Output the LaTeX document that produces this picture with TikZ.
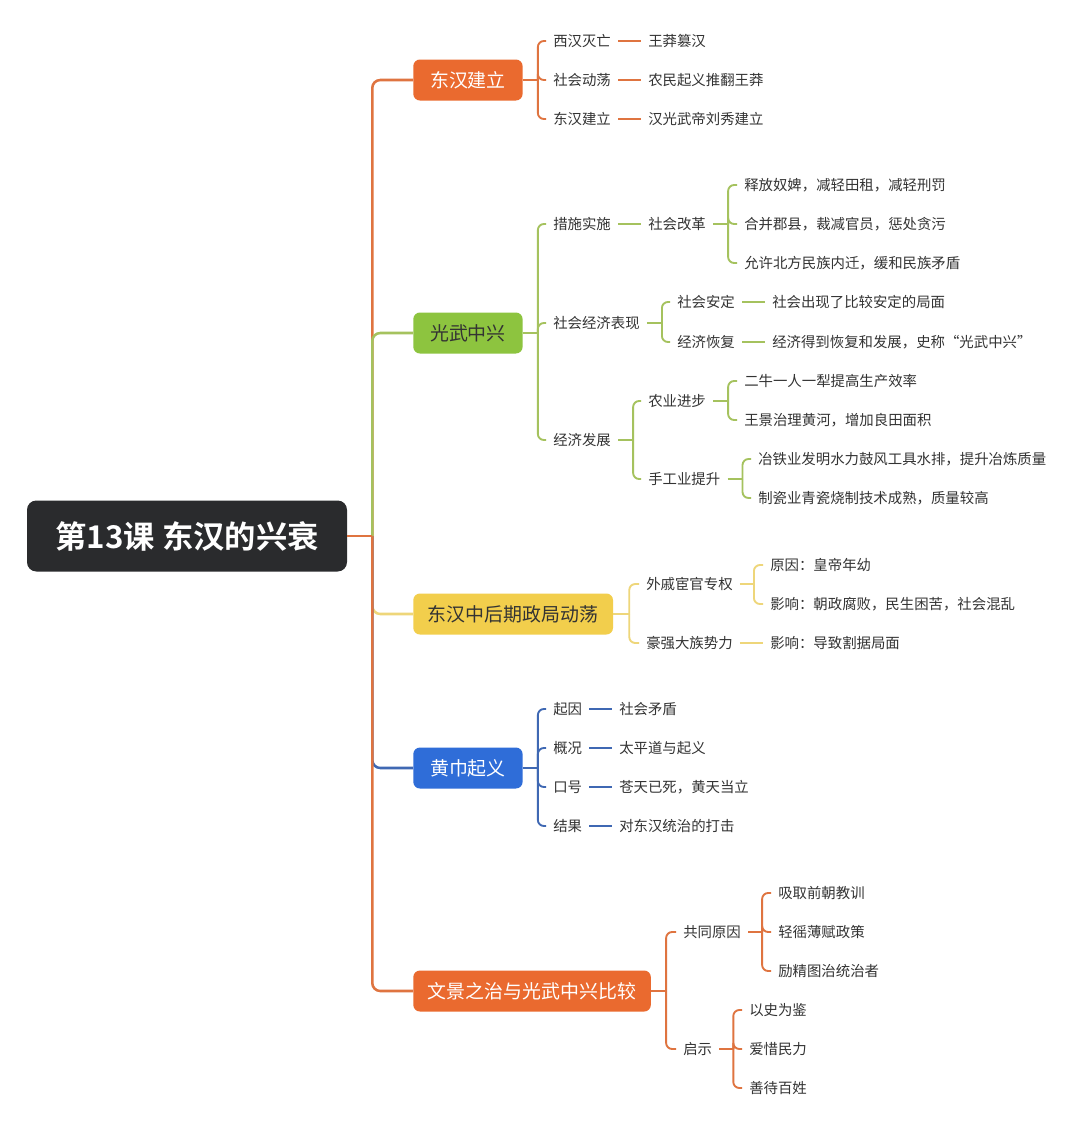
\documentclass[tikz,border=0pt]{standalone}
\usepackage{fontspec}
\setmainfont{Noto Sans CJK SC}[BoldFont={Noto Sans CJK SC Bold}]
\usepackage{xcolor}
\usepackage{tikz}

\definecolor{xorange}{HTML}{EA6A2F}
\definecolor{xorangeln}{HTML}{DF7440}
\definecolor{xgreen}{HTML}{8DC43F}
\definecolor{xgreenln}{HTML}{A5C25E}
\definecolor{xyellow}{HTML}{F2CE4C}
\definecolor{xyellowln}{HTML}{EED67A}
\definecolor{xblue}{HTML}{2F6DD8}
\definecolor{xblueln}{HTML}{3F68B3}
\definecolor{xdark}{HTML}{2A2B2D}
\definecolor{xtext}{HTML}{333333}

\tikzset{
  leaf/.style={anchor=west, inner xsep=5.25pt, inner ysep=2pt, text=xtext,
    font=\fontsize{10.8pt}{13pt}\selectfont},
  topic/.style={anchor=west, rounded corners=5pt, minimum height=30.75pt,
    minimum width=82pt, inner xsep=11pt, font=\fontsize{14.2pt}{16pt}\selectfont},
  rootbox/.style={rounded corners=7pt, fill=xdark, text=white, minimum width=240pt,
    minimum height=53.25pt, font=\fontsize{23.5pt}{26pt}\selectfont\bfseries},
  trunk/.style={line width=1.9pt, rounded corners=6pt},
  sub/.style={line width=1.4pt, rounded corners=4.5pt},
}

\begin{document}
\begin{tikzpicture}[x=0.75pt,y=-0.75pt]
\fill[white] (0,0) rectangle (1080,1132);
\useasboundingbox (0,0) rectangle (1080,1132);

% root
\node[rootbox] (root) at (187,536) {第13课 东汉的兴衰};

% topics
\node[topic, fill=xorange, text=white] (jl) at (413,80) {东汉建立};
\node[topic, fill=xgreen, text=xtext] (zx) at (413,333) {光武中兴};
\node[topic, fill=xyellow, text=xtext] (dd) at (413,614) {东汉中后期政局动荡};
\node[topic, fill=xblue, text=white] (hj) at (413,768) {黄巾起义};
\node[topic, fill=xorange, text=white] (bj) at (413,991) {文景之治与光武中兴比较};

% trunk
\coordinate (tf) at ([xshift=25*0.75pt]root.east);
\draw[trunk, xyellowln] (tf) |- (dd.west);
\draw[trunk, xblueln] (tf) |- (hj.west);
\draw[trunk, xorangeln] (tf) |- (bj.west);
\draw[trunk, xorangeln] (tf) |- (jl.west);
\draw[trunk, xgreenln] (tf) |- (zx.west);
\draw[trunk, xorangeln] (root.east) -- (tf);

% 东汉建立
\node[leaf] (jl1) at (546,41) {西汉灭亡};
\node[leaf] (jl2) at (546,80) {社会动荡};
\node[leaf] (jl3) at (546,119) {东汉建立};
\node[leaf] (jl1a) at (641,41) {王莽篡汉};
\node[leaf] (jl2a) at (641,80) {农民起义推翻王莽};
\node[leaf] (jl3a) at (641,119) {汉光武帝刘秀建立};
\draw[sub, xorangeln] (jl.east) -- ++(15,0) coordinate (jlf);
\foreach \c in {jl1,jl2,jl3} \draw[sub, xorangeln] (jlf) |- (\c.west);
\foreach \c in {jl1,jl2,jl3} \draw[sub, xorangeln] (\c) -- (\c a);

% 光武中兴
\node[leaf] (zx1) at (546,224) {措施实施};
\node[leaf] (zx2) at (546,323) {社会经济表现};
\node[leaf] (zx3) at (546,440) {经济发展};
\node[leaf] (zx1a) at (641,224) {社会改革};
\node[leaf] (zx1a1) at (737,185) {释放奴婢，减轻田租，减轻刑罚};
\node[leaf] (zx1a2) at (737,224) {合并郡县，裁减官员，惩处贪污};
\node[leaf] (zx1a3) at (737,263) {允许北方民族内迁，缓和民族矛盾};
\node[leaf] (zx2a) at (670,302) {社会安定};
\node[leaf] (zx2b) at (670,342) {经济恢复};
\node[leaf] (zx2a1) at (765,302) {社会出现了比较安定的局面};
\node[leaf] (zx2b1) at (765,342) {经济得到恢复和发展，史称“光武中兴”};
\node[leaf] (zx3a) at (641,401) {农业进步};
\node[leaf] (zx3b) at (641,479) {手工业提升};
\node[leaf] (zx3a1) at (737,381) {二牛一人一犁提高生产效率};
\node[leaf] (zx3a2) at (737,420) {王景治理黄河，增加良田面积};
\node[leaf] (zx3b1) at (751,459) {冶铁业发明水力鼓风工具水排，提升冶炼质量};
\node[leaf] (zx3b2) at (751,498) {制瓷业青瓷烧制技术成熟，质量较高};
\draw[sub, xgreenln] (zx.east) -- ++(15,0) coordinate (zxf);
\foreach \c in {zx1,zx2,zx3} \draw[sub, xgreenln] (zxf) |- (\c.west);
\draw[sub, xgreenln] (zx1) -- (zx1a);
\draw[sub, xgreenln] (zx1a.east) -- ++(15,0) coordinate (zx1af);
\foreach \c in {zx1a1,zx1a2,zx1a3} \draw[sub, xgreenln] (zx1af) |- (\c.west);
\draw[sub, xgreenln] (zx2.east) -- ++(15,0) coordinate (zx2f);
\foreach \c in {zx2a,zx2b} \draw[sub, xgreenln] (zx2f) |- (\c.west);
\draw[sub, xgreenln] (zx2a) -- (zx2a1);
\draw[sub, xgreenln] (zx2b) -- (zx2b1);
\draw[sub, xgreenln] (zx3.east) -- ++(15,0) coordinate (zx3f);
\foreach \c in {zx3a,zx3b} \draw[sub, xgreenln] (zx3f) |- (\c.west);
\draw[sub, xgreenln] (zx3a.east) -- ++(15,0) coordinate (zx3af);
\foreach \c in {zx3a1,zx3a2} \draw[sub, xgreenln] (zx3af) |- (\c.west);
\draw[sub, xgreenln] (zx3b.east) -- ++(15,0) coordinate (zx3bf);
\foreach \c in {zx3b1,zx3b2} \draw[sub, xgreenln] (zx3bf) |- (\c.west);

% 东汉中后期政局动荡
\node[leaf] (dd1) at (639,584) {外戚宦官专权};
\node[leaf] (dd2) at (639,643) {豪强大族势力};
\node[leaf] (dd1a) at (763,565) {原因：皇帝年幼};
\node[leaf] (dd1b) at (763,604) {影响：朝政腐败，民生困苦，社会混乱};
\node[leaf] (dd2a) at (763,643) {影响：导致割据局面};
\draw[sub, xyellowln] (dd.east) -- ++(16,0) coordinate (ddf);
\foreach \c in {dd1,dd2} \draw[sub, xyellowln] (ddf) |- (\c.west);
\draw[sub, xyellowln] (dd1.east) -- ++(14,0) coordinate (dd1f);
\foreach \c in {dd1a,dd1b} \draw[sub, xyellowln] (dd1f) |- (\c.west);
\draw[sub, xyellowln] (dd2) -- (dd2a);

% 黄巾起义
\node[leaf] (hj1) at (546,709) {起因};
\node[leaf] (hj2) at (546,748) {概况};
\node[leaf] (hj3) at (546,787) {口号};
\node[leaf] (hj4) at (546,826) {结果};
\node[leaf] (hj1a) at (612,709) {社会矛盾};
\node[leaf] (hj2a) at (612,748) {太平道与起义};
\node[leaf] (hj3a) at (612,787) {苍天已死，黄天当立};
\node[leaf] (hj4a) at (612,826) {对东汉统治的打击};
\draw[sub, xblueln] (hj.east) -- ++(15,0) coordinate (hjf);
\foreach \c in {hj1,hj2,hj3,hj4} \draw[sub, xblueln] (hjf) |- (\c.west);
\foreach \c in {hj1,hj2,hj3,hj4} \draw[sub, xblueln] (\c) -- (\c a);

% 文景之治与光武中兴比较
\node[leaf] (bj1) at (676,932) {共同原因};
\node[leaf] (bj2) at (676,1049) {启示};
\node[leaf] (bj1a) at (771,893) {吸取前朝教训};
\node[leaf] (bj1b) at (771,932) {轻徭薄赋政策};
\node[leaf] (bj1c) at (771,971) {励精图治统治者};
\node[leaf] (bj2a) at (742,1010) {以史为鉴};
\node[leaf] (bj2b) at (742,1049) {爱惜民力};
\node[leaf] (bj2c) at (742,1088) {善待百姓};
\draw[sub, xorangeln] (bj.east) -- ++(15,0) coordinate (bjf);
\foreach \c in {bj1,bj2} \draw[sub, xorangeln] (bjf) |- (\c.west);
\draw[sub, xorangeln] (bj1.east) -- ++(14,0) coordinate (bj1f);
\foreach \c in {bj1a,bj1b,bj1c} \draw[sub, xorangeln] (bj1f) |- (\c.west);
\draw[sub, xorangeln] (bj2.east) -- ++(14,0) coordinate (bj2f);
\foreach \c in {bj2a,bj2b,bj2c} \draw[sub, xorangeln] (bj2f) |- (\c.west);
\end{tikzpicture}
\end{document}
